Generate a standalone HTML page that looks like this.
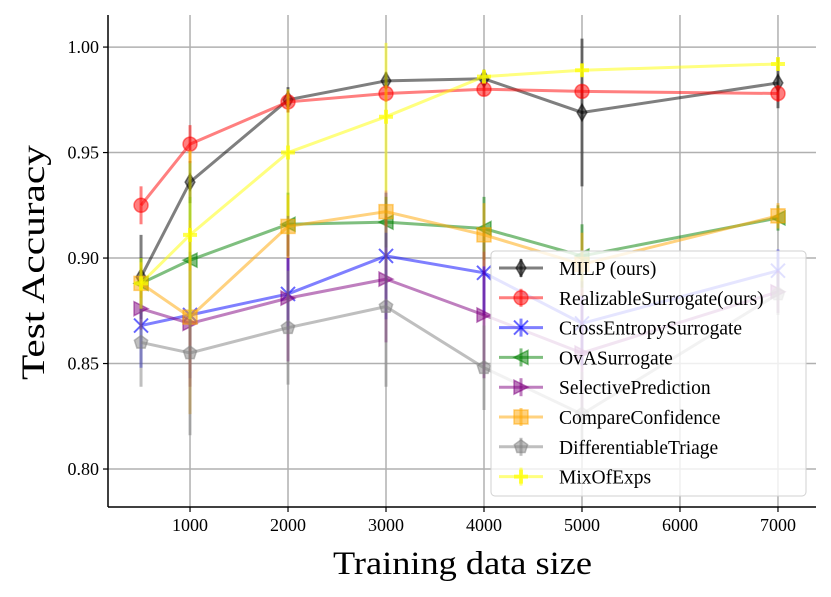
<!DOCTYPE html>
<html><head><meta charset="utf-8"><style>
body{margin:0;background:#fff}
svg{display:block;font-family:"Liberation Serif",serif}
</style></head><body>
<svg id="chart" width="831" height="597" viewBox="0 0 831 597"></svg>
<script>
const xValues=[500,1000,2000,3000,4000,5000,7000];
const xTicks=[1000,2000,3000,4000,5000,6000,7000];
const yTicks=[0.80,0.85,0.90,0.95,1.00];
const seriesNames=["MILP (ours)","RealizableSurrogate(ours)","CrossEntropySurrogate","OvASurrogate","SelectivePrediction","CompareConfidence","DifferentiableTriage","MixOfExps"];
const milp=[0.891,0.936,0.975,0.984,0.985,0.969,0.983];
const milpErr=[0.02,0.01,0.006,0.004,0.003,0.035,0.012];
const realizable=[0.925,0.954,0.974,0.978,0.980,0.979,0.978];
const realizableErr=[0.009,0.009,0.005,0.004,0.003,0.003,0.004];
const crossEnt=[0.868,0.873,0.883,0.901,0.893,0.869,0.894];
const crossEntErr=[0.02,0.03,0.017,0.03,0.02,0.02,0.01];
const ova=[0.888,0.899,0.916,0.917,0.914,0.901,0.919];
const ovaErr=[0.012,0.03,0.015,0.012,0.015,0.015,0.006];
const selective=[0.876,0.869,0.881,0.890,0.873,0.855,0.884];
const selectiveErr=[0.01,0.03,0.03,0.03,0.03,0.03,0.01];
const compare=[0.888,0.872,0.915,0.922,0.911,0.897,0.920];
const compareErr=[0.01,0.046,0.015,0.01,0.015,0.015,0.006];
const diffTriage=[0.860,0.855,0.867,0.877,0.848,0.826,0.883];
const diffTriageErr=[0.021,0.039,0.027,0.038,0.02,0.02,0.01];
const mix=[0.888,0.911,0.950,0.967,0.986,0.989,0.992];
const mixErr=[0.012,0.04,0.03,0.035,0.003,0.003,0.003];
const seriesVals=[milp,realizable,crossEnt,ova,selective,compare,diffTriage,mix];
const seriesErrs=[milpErr,realizableErr,crossEntErr,ovaErr,selectiveErr,compareErr,diffTriageErr,mixErr];
const colors=["#000000","#ff0000","#0000ff","#008000","#800080","#ffa500","#808080","#ffff00"];
const markers=["diamond","circle","x","tleft","tright","square","pentagon","plus"];

const NS="http://www.w3.org/2000/svg";
const svg=document.getElementById('chart');
const L=108,R=816,T=15,B=507;
const xMin=163,xMax=7388,yMin=0.782,yMax=1.0152;
function sx(v){return L+(v-xMin)/(xMax-xMin)*(R-L);}
function sy(v){return B-(v-yMin)/(yMax-yMin)*(B-T);}
function el(tag,attrs,parent){const e=document.createElementNS(NS,tag);for(const k in attrs)e.setAttribute(k,attrs[k]);(parent||svg).appendChild(e);return e;}

const grid=el('g',{});


xTicks.forEach(t=>{el('line',{x1:sx(t),x2:sx(t),y1:T,y2:B,stroke:'#b0b0b0','stroke-width':1.5},grid);});
yTicks.forEach(t=>{el('line',{x1:L,x2:R,y1:sy(t),y2:sy(t),stroke:'#b0b0b0','stroke-width':1.5},grid);});

function marker(g,type,x,y,c,s){
  s=s||7;
  const fillA={fill:c,'fill-opacity':0.5,stroke:c,'stroke-opacity':0.5,'stroke-width':1.5};
  let m;
  if(type==='diamond')m=el('polygon',Object.assign({points:`${x},${y-s*1.2} ${x+s*0.7},${y} ${x},${y+s*1.2} ${x-s*0.7},${y}`},fillA),g);
  else if(type==='circle')m=el('circle',Object.assign({cx:x,cy:y,r:s},fillA),g);
  else if(type==='square')m=el('rect',Object.assign({x:x-s,y:y-s,width:2*s,height:2*s},fillA),g);
  else if(type==='tleft')m=el('polygon',Object.assign({points:`${x-s},${y} ${x+s},${y-s} ${x+s},${y+s}`},fillA),g);
  else if(type==='tright')m=el('polygon',Object.assign({points:`${x+s},${y} ${x-s},${y-s} ${x-s},${y+s}`},fillA),g);
  else if(type==='pentagon'){let p=[];for(let i=0;i<5;i++){const a=-Math.PI/2+i*2*Math.PI/5;p.push((x+s*Math.cos(a))+','+(y+s*Math.sin(a)));}m=el('polygon',Object.assign({points:p.join(' ')},fillA),g);}
  else if(type==='x'){m=el('path',{d:`M${x-s},${y-s}L${x+s},${y+s}M${x-s},${y+s}L${x+s},${y-s}`,stroke:c,'stroke-opacity':0.6,'stroke-width':2},g);}
  else if(type==='plus'){m=el('path',{d:`M${x-s},${y}L${x+s},${y}M${x},${y-s}L${x},${y+s}`,stroke:c,'stroke-opacity':0.7,'stroke-width':4},g);}
  return m;
}

seriesVals.forEach((vals,si)=>{
  const g=el('g',{});
  
  
  const c=colors[si];
  vals.forEach((v,i)=>{
    const e=seriesErrs[si][i];
    const eb=el('line',{x1:sx(xValues[i]),x2:sx(xValues[i]),y1:sy(v-e),y2:sy(v+e),stroke:c,'stroke-opacity':0.5,'stroke-width':3},g);
    
    
  });
  const d=vals.map((v,i)=>(i?'L':'M')+sx(xValues[i])+','+sy(v)).join('');
  const ln=el('path',{d:d,fill:'none',stroke:c,'stroke-opacity':0.5,'stroke-width':3},g);
  
  
  vals.forEach((v,i)=>{
    const m=marker(g,markers[si],sx(xValues[i]),sy(v),c);
    
    
  });
});

const ax=el('g',{});


el('line',{x1:L,x2:L,y1:T,y2:B,stroke:'#000','stroke-width':1.5},ax);
el('line',{x1:L,x2:R,y1:B,y2:B,stroke:'#000','stroke-width':1.5},ax);
xTicks.forEach(t=>{
  el('line',{x1:sx(t),x2:sx(t),y1:B,y2:B+5,stroke:'#000','stroke-width':1.2},ax);
  const tx=el('text',{x:sx(t),y:B+24,'text-anchor':'middle','font-size':18},ax);
  tx.textContent=t;
  
  
});
yTicks.forEach(t=>{
  el('line',{x1:L-5,x2:L,y1:sy(t),y2:sy(t),stroke:'#000','stroke-width':1.2},ax);
  const tx=el('text',{x:L-9,y:sy(t)+6,'text-anchor':'end','font-size':18},ax);
  tx.textContent=t.toFixed(2);
  
  
});
const xt=el('text',{x:333,y:574,'font-size':33,textLength:259,lengthAdjust:'spacingAndGlyphs'});
xt.textContent='Training data size';


const yt=el('text',{x:0,y:0,'font-size':33,textLength:235,lengthAdjust:'spacingAndGlyphs',transform:'translate(44,380) rotate(-90)'});
yt.textContent='Test Accuracy';



const lg=el('g',{});


el('rect',{x:491,y:251,width:315,height:245,rx:4,fill:'#fff','fill-opacity':0.8,stroke:'#d0d0d0','stroke-width':1},lg);
seriesNames.forEach((n,i)=>{
  const y=268+i*29.8;
  const e=el('g',{},lg);
  
  
  el('line',{x1:499,x2:543,y1:y,y2:y,stroke:colors[i],'stroke-opacity':0.5,'stroke-width':3},e);
  el('line',{x1:521,x2:521,y1:y-9,y2:y+9,stroke:colors[i],'stroke-opacity':0.5,'stroke-width':3},e);
  marker(e,markers[i],521,y,colors[i]);
  const t=el('text',{x:559,y:y+7,'font-size':19.5},e);
  t.textContent=n;
});
</script>
</body></html>
